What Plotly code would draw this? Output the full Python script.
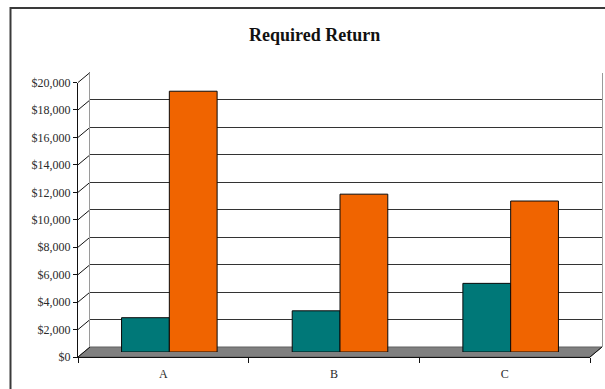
import plotly.graph_objects as go

categories = ["A", "B", "C"]
series1_values = [2500, 3000, 5000]     # teal
series2_values = [19000, 11500, 11000]  # orange
y_ticks = list(range(0, 20001, 2000))
y_tick_labels = ["$" + f"{v:,}" for v in y_ticks]

W, H = 605, 389
YMAX = 20000


def px(x):
    return x / W


def py(y):
    return 1 - y / H


# plane geometry (pixels): back wall, front axes plane, mid-depth (bars)
BACK = dict(x0=90, x1=602, y0=347, y1=72.5)
FRONT = dict(x0=78, x1=590, y0=357, y1=82.5)
MID = dict(x0=84, x1=596, y0=352, y1=77.5)


def dom(p):
    return dict(x=[px(p["x0"]), px(p["x1"])], y=[py(p["y0"]), py(p["y1"])])


def val_y(p, v):
    return p["y0"] + (p["y1"] - p["y0"]) * v / YMAX


fig = go.Figure()

# invisible anchor traces for back wall and front axes
fig.add_trace(go.Scatter(x=categories, y=[None] * 3, xaxis="x", yaxis="y",
                         showlegend=False, hoverinfo="skip"))
fig.add_trace(go.Scatter(x=categories, y=[None] * 3, xaxis="x2", yaxis="y2",
                         showlegend=False, hoverinfo="skip"))

fig.add_trace(go.Bar(x=categories, y=series1_values, xaxis="x3", yaxis="y3",
                     name="Series 1",
                     marker=dict(color="#007878", line=dict(color="#0a0a0a", width=1))))
fig.add_trace(go.Bar(x=categories, y=series2_values, xaxis="x3", yaxis="y3",
                     name="Series 2",
                     marker=dict(color="#F06400", line=dict(color="#0a0a0a", width=1))))

bd, fd, md = dom(BACK), dom(FRONT), dom(MID)

font_serif = "Liberation Serif"

shapes = []
# floor
shapes.append(dict(type="path", xref="paper", yref="paper", layer="below",
                   path=(f"M {px(FRONT['x0'])} {py(FRONT['y0'])} L {px(FRONT['x1'])} {py(FRONT['y0'])} "
                         f"L {px(BACK['x1'])} {py(BACK['y0'])} L {px(BACK['x0'])} {py(BACK['y0'])} Z"),
                   fillcolor="#808080", line=dict(color="#606060", width=1)))
# side wall diagonals
for v in y_ticks:
    shapes.append(dict(type="line", xref="paper", yref="paper", layer="below",
                       x0=px(FRONT["x0"]), y0=py(val_y(FRONT, v)),
                       x1=px(BACK["x0"]), y1=py(val_y(BACK, v)),
                       line=dict(color="#111111", width=1)))
# right floor edge
shapes.append(dict(type="line", xref="paper", yref="paper", layer="below",
                   x0=px(FRONT["x1"]), y0=py(FRONT["y0"]), x1=px(BACK["x1"]), y1=py(BACK["y0"]),
                   line=dict(color="#111111", width=1)))
# outer chart border
shapes.append(dict(type="rect", xref="paper", yref="paper", layer="above",
                   x0=px(10.5), y0=py(H + 20), x1=px(W + 20), y1=py(8),
                   line=dict(color="#3a3a3a", width=2), fillcolor="rgba(0,0,0,0)"))

tick_font = dict(family=font_serif, size=12, color="#2a2a2a")

fig.update_layout(
    template="none",
    width=W, height=H, autosize=False,
    margin=dict(l=0, r=0, t=0, b=0, pad=0, autoexpand=False),
    paper_bgcolor="white", plot_bgcolor="rgba(0,0,0,0)",
    showlegend=False,
    barmode="group", bargap=0.44, bargroupgap=0,
    font=dict(family=font_serif, color="#222222", size=12),
    shapes=shapes,
    annotations=[dict(text="<b>Required Return</b>", xref="paper", yref="paper",
                      x=px(314), y=py(35), xanchor="center", yanchor="middle",
                      showarrow=False,
                      font=dict(family=font_serif, size=18, color="#111111"))],
    # back wall
    xaxis=dict(domain=bd["x"], anchor="y", type="category", showgrid=False,
               showticklabels=False, ticks="", showline=False, zeroline=False,
               range=[-0.5, 2.5], automargin=False),
    yaxis=dict(domain=bd["y"], anchor="x", range=[0, YMAX], tickvals=y_ticks,
               showgrid=True, gridcolor="#333333", gridwidth=1,
               showticklabels=False, ticks="", zeroline=False, automargin=False,
               showline=True, linecolor="#9a9a9a", linewidth=1, mirror=True),
    # front axes
    xaxis2=dict(domain=fd["x"], anchor="y2", type="category", range=[-0.5, 2.5],
                showgrid=False, zeroline=False, showline=True, linecolor="#111111",
                linewidth=1, ticks="outside", tickson="boundaries", ticklen=5,
                tickcolor="#111111", tickfont=tick_font, ticklabelstandoff=6,
                automargin=False),
    yaxis2=dict(domain=fd["y"], anchor="x2", range=[0, YMAX], tickvals=y_ticks,
                ticktext=y_tick_labels, showgrid=False, zeroline=False,
                showline=True, linecolor="#111111", linewidth=1,
                ticks="outside", ticklen=4, tickcolor="#111111",
                tickfont=tick_font, automargin=False),
    # bars at mid depth
    xaxis3=dict(domain=md["x"], anchor="y3", type="category", range=[-0.5, 2.5],
                visible=False, automargin=False),
    yaxis3=dict(domain=md["y"], anchor="x3", range=[0, YMAX], visible=False,
                automargin=False),
)

fig.write_html("out.html")
